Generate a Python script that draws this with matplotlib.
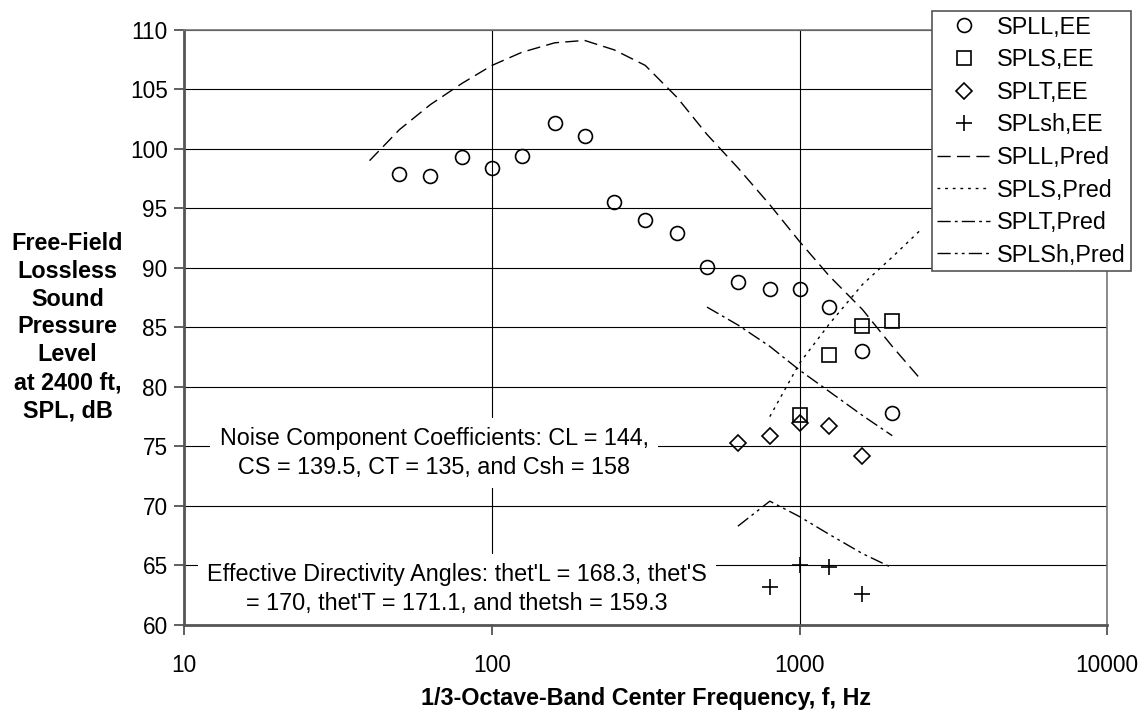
import numpy as np
import matplotlib
matplotlib.use("Agg")
import matplotlib.pyplot as plt

plt.rcParams['font.family'] = ['Liberation Sans', 'DejaVu Sans']

# measured (EE) values
freq_ll = [50, 63, 80, 100, 125, 160, 200, 250, 315, 400, 500, 630, 800, 1000, 1250, 1600, 2000]
spll_ee = [97.9, 97.7, 99.3, 98.4, 99.4, 102.2, 101.1, 95.5, 94.0, 92.9, 90.1, 88.8, 88.2, 88.2, 86.7, 83.0, 77.8]

freq_s = [1000, 1250, 1600, 2000]
spls_ee = [77.6, 82.7, 85.1, 85.5]

freq_t = [630, 800, 1000, 1250, 1600]
splt_ee = [75.3, 75.9, 77.0, 76.7, 74.2]

freq_sh = [800, 1000, 1250, 1600]
splsh_ee = [63.2, 65.0, 64.9, 62.6]

# predicted values
freq_ll_pred = [40, 50, 63, 80, 100, 125, 160, 200, 250, 315, 400, 500, 630, 800, 1000, 1250, 1600, 2000, 2500]
spll_pred = [99.0, 101.6, 103.7, 105.5, 107.0, 108.1, 108.9, 109.1, 108.3, 107.0, 104.3, 101.2, 98.4, 95.3, 92.2, 89.3, 86.5, 83.4, 80.5]

freq_s_pred = [800, 1000, 1250, 1600, 2000, 2500]
spls_pred = [77.5, 82.0, 85.3, 88.6, 90.9, 93.3]

freq_t_pred = [500, 630, 800, 1000, 1250, 1600, 2000]
splt_pred = [86.7, 85.2, 83.4, 81.4, 79.6, 77.6, 75.9]

freq_sh_pred = [630, 800, 1000, 1250, 1600, 2000]
splsh_pred = [68.3, 70.4, 69.1, 67.6, 66.0, 64.8]

x_ticks = [10, 100, 1000, 10000]
y_ticks = list(range(60, 111, 5))

W, H = 1144, 711
fig = plt.figure(figsize=(W / 100, H / 100), dpi=100)
ax = fig.add_axes([184.3 / W, 1 - 625 / H, (1107.3 - 184.3) / W, (625 - 29.7) / H])

ax.set_xscale('log')
ax.set_xlim(10, 10000)
ax.set_ylim(60, 110)
ax.set_xticks(x_ticks)
ax.set_xticklabels([str(t) for t in x_ticks])
ax.xaxis.set_minor_locator(matplotlib.ticker.NullLocator())
ax.set_yticks(y_ticks)
ax.tick_params(axis='both', labelsize=16.3, length=7, width=1.2, color='#444444', direction='out')
ax.tick_params(axis='x', pad=14)
ax.tick_params(axis='y', pad=5)

ax.grid(True, color='black', linewidth=0.8)
ax.set_axisbelow(True)
for side in ['left', 'bottom']:
    ax.spines[side].set_linewidth(2.0)
    ax.spines[side].set_color('#555555')
for side in ['top', 'right']:
    ax.spines[side].set_linewidth(1.2)
    ax.spines[side].set_color('#777777')

mk = dict(linestyle='none', markerfacecolor='none', markeredgecolor='black', markeredgewidth=1.2, zorder=5)
ax.plot(freq_ll, spll_ee, marker='o', markersize=10, label='SPLL,EE', **mk)
ax.plot(freq_s, spls_ee, marker='s', markersize=10, label='SPLS,EE', **mk)
ax.plot(freq_t, splt_ee, marker='D', markersize=8.5, label='SPLT,EE', **mk)
ax.plot(freq_sh, splsh_ee, marker='+', markersize=12, label='SPLsh,EE', **mk)

ln = dict(color='black', linewidth=1.0, zorder=4)
ax.plot(freq_ll_pred, spll_pred, dashes=(9.5, 4.5), label='SPLL,Pred', **ln)
ax.plot(freq_s_pred, spls_pred, dashes=(2, 3.5), label='SPLS,Pred', **ln)
ax.plot(freq_t_pred, splt_pred, dashes=(9.5, 3, 2, 3), label='SPLT,Pred', **ln)
ax.plot(freq_sh_pred, splsh_pred, dashes=(9.5, 3, 2, 3, 2, 3), label='SPLSh,Pred', **ln)

ax.text((434 - 184.3) / 923, (625 - 453) / 595.3,
        "Noise Component Coefficients: CL = 144,\nCS = 139.5, CT = 135, and Csh = 158",
        transform=ax.transAxes, ha='center', va='center', multialignment='center',
        fontsize=16.8, linespacing=1.3, zorder=3,
        bbox=dict(boxstyle='square,pad=0.4', facecolor='white', edgecolor='none'))
ax.text((457 - 184.3) / 923, (625 - 589) / 595.3,
        "Effective Directivity Angles: thet'L = 168.3, thet'S\n= 170, thet'T = 171.1, and thetsh = 159.3",
        transform=ax.transAxes, ha='center', va='center', multialignment='center',
        fontsize=16.8, linespacing=1.3, zorder=3,
        bbox=dict(boxstyle='square,pad=0.4', facecolor='white', edgecolor='none'))

leg = ax.legend(loc='upper left', bbox_to_anchor=(932 / W, 1 - 11 / H), bbox_transform=fig.transFigure,
                borderaxespad=0, fontsize=16.8, frameon=True, fancybox=False, framealpha=1,
                edgecolor='#555555', borderpad=0.2, labelspacing=0.41, handlelength=2.3,
                handletextpad=0.3)
leg.get_frame().set_linewidth(1.2)
leg.set_zorder(10)

fig.text(67.5 / W, 1 - 327 / H,
         "Free-Field\nLossless\nSound\nPressure\nLevel\nat 2400 ft,\nSPL, dB",
         ha='center', va='center', multialignment='center', fontsize=16.8, fontweight='bold',
         linespacing=1.27)
fig.text((184.3 + 1107.3) / 2 / W, 1 - 698 / H, "1/3-Octave-Band Center Frequency, f, Hz",
         ha='center', va='center', fontsize=16.8, fontweight='bold')

fig.savefig('out.png', dpi=100)
